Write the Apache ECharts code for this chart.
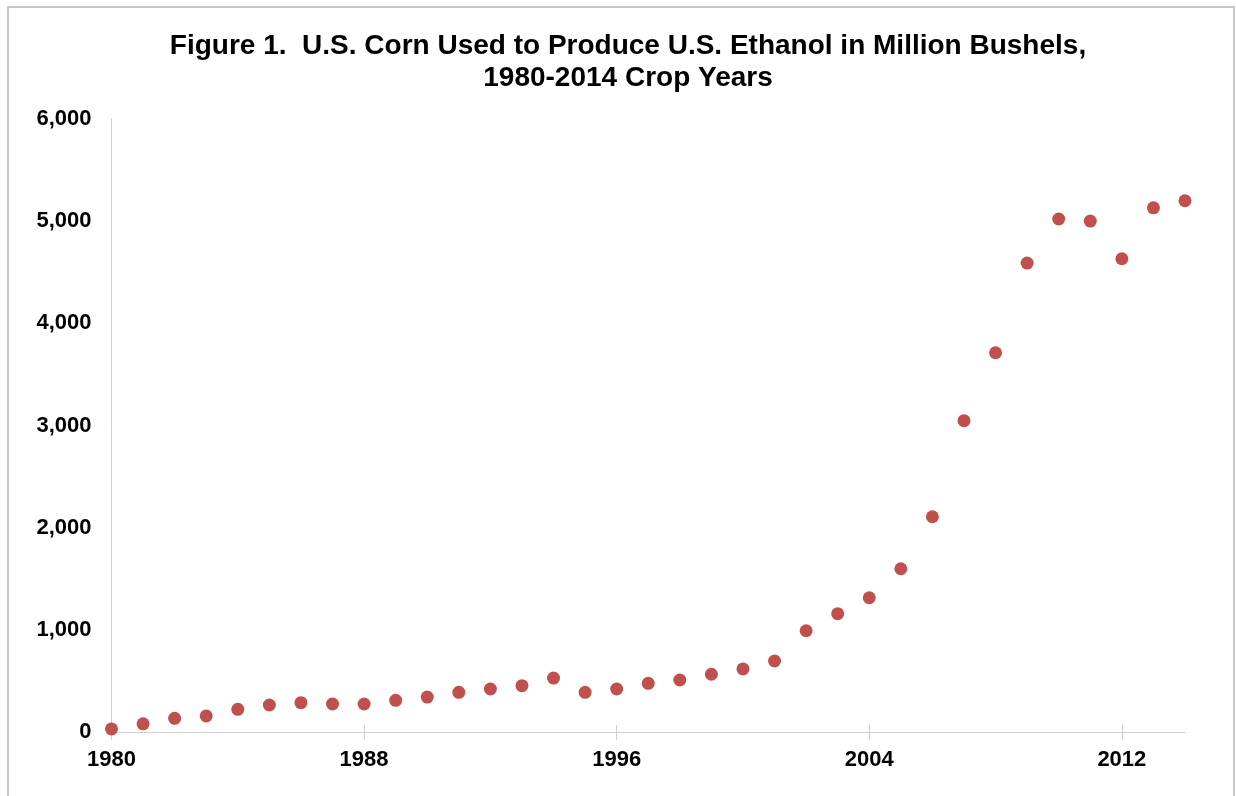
<!DOCTYPE html>
<html>
<head>
<meta charset="utf-8">
<script src="https://cdn.jsdelivr.net/npm/echarts@6/dist/echarts.min.js"></script>
<style>
  html, body { margin: 0; padding: 0; background: #fff; }
  #chart { width: 1236px; height: 796px; }
</style>
</head>
<body>
<div id="chart"></div>
<script>
// Crop years 1980–2014
const years = [
  '1980','1981','1982','1983','1984','1985','1986','1987','1988','1989',
  '1990','1991','1992','1993','1994','1995','1996','1997','1998','1999',
  '2000','2001','2002','2003','2004','2005','2006','2007','2008','2009',
  '2010','2011','2012','2013','2014'
];

// Corn used for ethanol, million bushels
const cornForEthanol = [
  30, 80, 134, 157, 222, 264, 287, 274, 274, 310,
  342, 388, 421, 453, 528, 388, 421, 476, 509, 565,
  617, 695, 991, 1158, 1314, 1598, 2107, 3047, 3712, 4590,
  5021, 5001, 4632, 5131, 5200
];

// Value axis ticks
const yTicks = [0, 1000, 2000, 3000, 4000, 5000, 6000];

const titleText = 'Figure 1.  U.S. Corn Used to Produce U.S. Ethanol in Million Bushels,\n1980-2014 Crop Years';

const FONT = "'Liberation Sans', Arial, sans-serif";
const AXIS_GRAY = '#d0d0d0';

const chart = echarts.init(document.getElementById('chart'), null, { renderer: 'canvas' });

chart.setOption({
  backgroundColor: '#fff',
  animation: false,
  title: {
    text: titleText,
    left: 623,
    textAlign: 'center',
    top: 25,
    textStyle: {
      fontFamily: FONT,
      fontWeight: 'bold',
      fontSize: 28,
      lineHeight: 32,
      color: '#000'
    }
  },
  graphic: [{
    // outer frame
    type: 'rect',
    shape: { x: 8, y: 7, width: 1226, height: 800 },
    style: { fill: 'none', stroke: '#c8c8c8', lineWidth: 2 },
    silent: true
  }],
  grid: {
    left: 111.5,
    right: 51,
    top: 119,
    bottom: 64,
    containLabel: false
  },
  xAxis: [{
    type: 'category',
    data: years,
    boundaryGap: false,
    position: 'bottom',
    axisLine: { show: true, lineStyle: { color: AXIS_GRAY, width: 1 } },
    axisTick: { show: true, interval: 7, length: 8, lineStyle: { color: AXIS_GRAY } },
    axisLabel: {
      interval: 7,
      margin: 17,
      fontFamily: FONT,
      fontWeight: 'bold',
      fontSize: 22,
      color: '#000'
    },
    splitLine: { show: false }
  }, {
    // upper half of the crossing tick marks
    type: 'category',
    data: years,
    boundaryGap: false,
    position: 'bottom',
    axisLine: { show: false },
    axisTick: { show: true, inside: true, interval: 7, length: 7, lineStyle: { color: AXIS_GRAY } },
    axisLabel: { show: false },
    splitLine: { show: false }
  }],
  yAxis: {
    type: 'value',
    min: yTicks[0],
    max: yTicks[yTicks.length - 1],
    interval: 1000,
    axisLine: { show: true, lineStyle: { color: AXIS_GRAY, width: 1 } },
    axisTick: { show: false },
    splitLine: { show: false },
    axisLabel: {
      margin: 20,
      fontFamily: FONT,
      fontWeight: 'bold',
      fontSize: 22,
      color: '#000',
      formatter: v => v.toLocaleString('en-US')
    }
  },
  series: [{
    type: 'scatter',
    xAxisIndex: 0,
    data: cornForEthanol,
    symbol: 'circle',
    symbolSize: 13,
    itemStyle: { color: '#c0504d', opacity: 1 }
  }]
});
</script>
</body>
</html>
